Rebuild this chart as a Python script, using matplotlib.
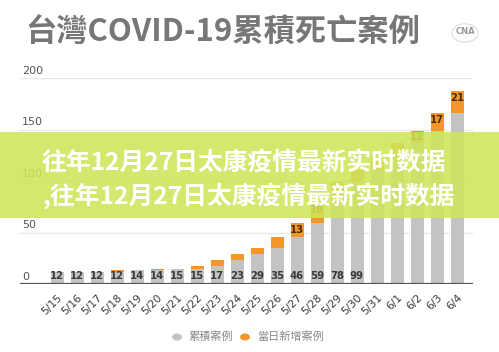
import matplotlib
matplotlib.use("Agg")
import matplotlib.pyplot as plt
from matplotlib.patches import Rectangle, Circle
import matplotlib.transforms as mtrans

dates = ["5/15", "5/16", "5/17", "5/18", "5/19", "5/20", "5/21", "5/22", "5/23", "5/24",
         "5/25", "5/26", "5/27", "5/28", "5/29", "5/30", "5/31", "6/1", "6/2", "6/3", "6/4"]
cumulative = [12, 12, 12, 12, 14, 14, 15, 15, 17, 23, 29, 35, 46, 59, 78, 99, 111, 122, 137, 149, 166]
new_cases = [0, 0, 0, 2, 0, 1, 0, 2, 6, 6, 6, 11, 13, 19, 21, 12, 11, 15, 12, 17, 21]
yticks = [0, 50, 100, 150, 200]
show_cum_label = [True] * 16 + [False] * 5
show_new_label = [False] * 12 + [True, True, False, False, False, False, True, True, True]

title = "台灣COVID-19累積死亡案例"
banner1 = "往年12月27日太康疫情最新实时数据"
banner2 = ",往年12月27日太康疫情最新实时数据"
legend_labels = ["累積案例", "當日新增案例"]

GREY = "#c3c3c3"
ORANGE = "#f5962a"

fig = plt.figure(figsize=(4.99, 3.52), dpi=100)
fig.patch.set_facecolor("white")
W, H = 499, 352
ax = fig.add_axes([20 / W, 1 - 284 / H, (473 - 20) / W, (284 - 78) / H])
ax.set_facecolor("white")
x = list(range(len(dates)))
ax.set_xlim(-1.85, 20.8)
ax.set_ylim(0, 200)

for t in yticks[1:]:
    ax.axhline(t, color="#e8e8e8", lw=1, zorder=0)
ax.axhline(0, color="#555555", lw=1.6, zorder=3)

ax.bar(x, cumulative, width=0.65, color=GREY, zorder=2)
ax.bar(x, new_cases, width=0.65, bottom=cumulative, color=ORANGE, zorder=2)

for i in x:
    if show_cum_label[i]:
        ax.text(i, 2.5, str(cumulative[i]), ha="center", va="bottom", fontsize=7.3,
                fontweight="bold", color="#3a3a3a", zorder=4)
    if show_new_label[i]:
        ax.text(i, cumulative[i] + new_cases[i] - 1.5, str(new_cases[i]), ha="center",
                va="top", fontsize=7.3, fontweight="bold", color="#4a2a00", zorder=4)

for s in ax.spines.values():
    s.set_visible(False)
ax.set_yticks([])
ax.set_xticks(x)
ax.set_xticklabels(dates, rotation=45, ha="right", rotation_mode="anchor",
                   fontsize=7.8, color="#3a3a3a")
ax.tick_params(axis="x", length=0, pad=6)

trans = mtrans.blended_transform_factory(fig.transFigure, ax.transData)
for t in yticks:
    ax.text(22 / W, t + 2, str(t), transform=trans, ha="left", va="bottom",
            fontsize=8, color="#555555")

# title
fig.text(25 / W, 1 - 33 / H, title, ha="left", va="center", fontsize=22.5,
         fontweight="bold", color="#777777", family=["Noto Sans CJK TC", "DejaVu Sans"])

# logo
logo = Circle((465 / W, 1 - 33 / H), 13 / W, transform=fig.transFigure,
              facecolor="white", edgecolor="#e2e2e2", lw=1)
fig.patches.append(logo)
fig.text(465 / W, 1 - 32 / H, "CNA", ha="center", va="center", fontsize=6,
         fontweight="bold", color="#999999")

# legend
fig.patches.append(Circle((177 / W, 1 - 337 / H), 5 / W, transform=fig.transFigure,
                          facecolor=GREY, edgecolor="none"))
fig.text(188 / W, 1 - 337 / H, legend_labels[0], ha="left", va="center", fontsize=8,
         color="#888888", family=["Noto Sans CJK TC", "DejaVu Sans"])
fig.patches.append(Circle((245 / W, 1 - 337 / H), 5 / W, transform=fig.transFigure,
                          facecolor=ORANGE, edgecolor="none"))
fig.text(257 / W, 1 - 337 / H, legend_labels[1], ha="left", va="center", fontsize=8,
         color="#888888", family=["Noto Sans CJK TC", "DejaVu Sans"])

# banner
fig.patches.append(Rectangle((0, 1 - 218 / H), 1, 86 / H, transform=fig.transFigure,
                             facecolor="#cfe55a", alpha=0.88, edgecolor="none", zorder=10))
fig.text(244 / W, 1 - 163 / H, banner1, ha="center", va="center", fontsize=17.8,
         fontweight="heavy", color="white", zorder=11,
         family=["Noto Sans CJK SC", "DejaVu Sans"])
fig.text(249 / W, 1 - 196 / H, banner2, ha="center", va="center", fontsize=17.8,
         fontweight="heavy", color="white", zorder=11,
         family=["Noto Sans CJK SC", "DejaVu Sans"])

fig.savefig("out.png", dpi=100, facecolor="white")
